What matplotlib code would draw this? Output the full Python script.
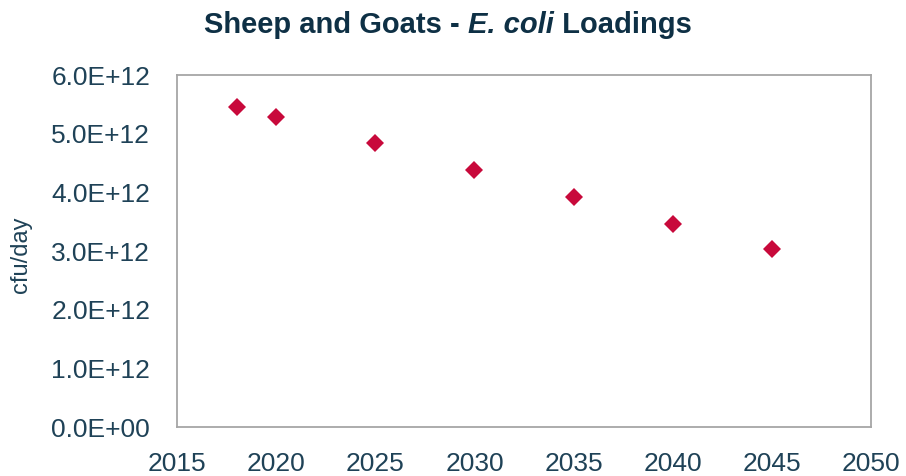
import matplotlib
matplotlib.use("Agg")
import matplotlib.pyplot as plt
from matplotlib.ticker import FixedLocator, FuncFormatter

# Data
years = [2018, 2020, 2025, 2030, 2035, 2040, 2045]
loadings = [5.46e12, 5.29e12, 4.85e12, 4.39e12, 3.93e12, 3.47e12, 3.04e12]
x_ticks = [2015, 2020, 2025, 2030, 2035, 2040, 2045, 2050]
y_ticks = [0, 1e12, 2e12, 3e12, 4e12, 5e12, 6e12]
title_parts = ["Sheep and Goats - ", "E. coli", " Loadings"]
y_label = "cfu/day"

FONT = "Liberation Sans"
TEXT_C = "#1f4257"
TITLE_C = "#0e3045"
MARK_C = "#C8093B"

plt.rcParams["font.family"] = [FONT, "DejaVu Sans"]

fig = plt.figure(figsize=(9.06, 4.76), dpi=100)
ax = fig.add_axes([0.1957, 0.1023, 0.9610 - 0.1957, 0.8424 - 0.1023])

ax.plot(years, loadings, linestyle="none", marker="D", markersize=9.5,
        color=MARK_C, markeredgewidth=0)

ax.set_xlim(2015, 2050)
ax.set_ylim(0, 6e12)
ax.xaxis.set_major_locator(FixedLocator(x_ticks))
ax.yaxis.set_major_locator(FixedLocator(y_ticks))
ax.yaxis.set_major_formatter(FuncFormatter(
    lambda v, p: "0.0E+00" if v == 0 else "%.1fE+%02d" % (v / 1e12, 12)))
ax.tick_params(axis="both", length=0, labelsize=19, labelcolor=TEXT_C)
ax.tick_params(axis="y", pad=19.5)
ax.tick_params(axis="x", pad=17.5)

for s in ax.spines.values():
    s.set_color("#a6a6a6")
    s.set_linewidth(1.3)

ax.set_ylabel(y_label, fontsize=17, color=TEXT_C)
ax.yaxis.label.set_va("center")
ax.yaxis.set_label_coords(-0.225, 0.49)

# Title with italic part, laid out piece by piece
fig.canvas.draw()
renderer = fig.canvas.get_renderer()
styles = ["normal", "italic", "normal"]
texts = []
for part, st in zip(title_parts, styles):
    t = fig.text(0, 0.931, part, fontsize=21, color=TITLE_C, style=st,
                 fontweight="bold", va="baseline", ha="left")
    texts.append(t)
widths = [t.get_window_extent(renderer).width for t in texts]
total = sum(widths)
x0 = 448 - total / 2
for t, w in zip(texts, widths):
    t.set_x(x0 / 906)
    x0 += w

fig.savefig("out.png", dpi=100)
